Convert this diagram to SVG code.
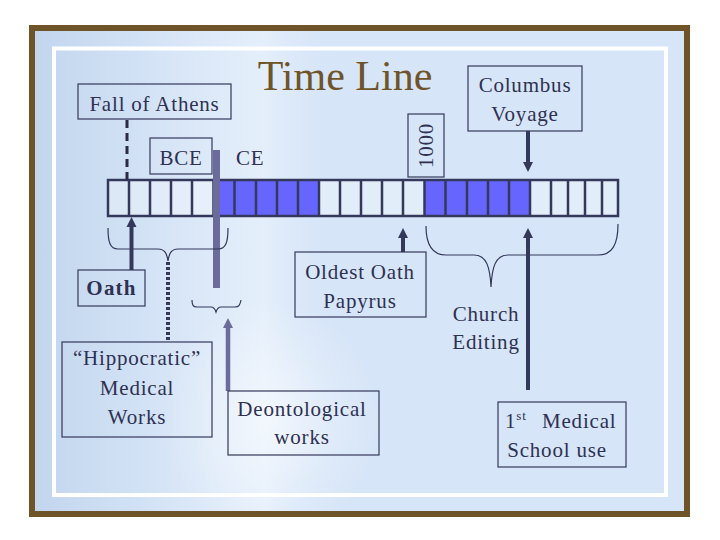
<svg xmlns="http://www.w3.org/2000/svg" width="720" height="540" viewBox="0 0 720 540">
<defs>
  <linearGradient id="leftImg" x1="0" y1="0" x2="1" y2="0">
    <stop offset="0" stop-color="#bfd3ec" stop-opacity="0.9"/>
    <stop offset="0.35" stop-color="#d0e0f4" stop-opacity="0.7"/>
    <stop offset="0.75" stop-color="#eef5fd" stop-opacity="0.6"/>
    <stop offset="1" stop-color="#d6e5f8" stop-opacity="0"/>
  </linearGradient>
  <radialGradient id="glow" cx="0.5" cy="0.5" r="0.5">
    <stop offset="0" stop-color="#ffffff" stop-opacity="0.55"/>
    <stop offset="1" stop-color="#ffffff" stop-opacity="0"/>
  </radialGradient>
  <marker id="ahDark" viewBox="0 0 10 10" refX="1" refY="5" markerWidth="10" markerHeight="11" markerUnits="userSpaceOnUse" orient="auto">
    <path d="M0,0 L10,5 L0,10 z" fill="#34385a"/>
  </marker>
  <marker id="ahPurple" viewBox="0 0 10 10" refX="1" refY="5" markerWidth="10" markerHeight="11" markerUnits="userSpaceOnUse" orient="auto">
    <path d="M0,0 L10,5 L0,10 z" fill="#6b6b9c"/>
  </marker>
</defs>
<style>
  .lbl { font-family: "Liberation Serif", "Times New Roman", serif; font-size: 21px; fill: #2e3152; letter-spacing: 0.8px; }
  .mid { text-anchor: middle; }
  .box { fill: none; stroke: #34385a; stroke-width: 1.2; }
  .title { font-family: "Liberation Serif", "Times New Roman", serif; font-size: 42px; fill: #6e5428; text-anchor: middle; }
  .arrow { stroke: #34385a; stroke-width: 4; fill: none; }
  .parrow { stroke: #6b6b9c; stroke-width: 4.5; fill: none; }
  .brace { stroke: #34385a; stroke-width: 1.2; fill: none; }
  .cell { stroke: #34385a; stroke-width: 2.5; }
  .blue { fill: #6666ff; }
</style>

<!-- background -->
<rect x="0" y="0" width="720" height="540" fill="#ffffff"/>
<rect x="32" y="28" width="655" height="486" fill="#d6e5f8"/>
<rect x="32" y="28" width="310" height="486" fill="url(#leftImg)"/>
<ellipse cx="270" cy="420" rx="110" ry="120" fill="url(#glow)"/>
<rect x="32" y="28" width="655" height="486" fill="none" stroke="#6e5428" stroke-width="6"/>
<rect x="54" y="48.5" width="612" height="446.5" fill="none" stroke="#ffffff" stroke-width="4"/>

<text class="title" x="345" y="90">Time Line</text>

<!-- timeline bar -->
<g id="timeline">
  <rect x="108" y="180" width="510" height="36" fill="#ffffff" fill-opacity="0.3"/>
  <rect class="blue" x="213.5" y="180" width="105.5" height="36"/>
  <rect class="blue" x="424.5" y="180" width="105.5" height="36"/>
  <path class="cell" d="M129,180V216 M150,180V216 M171,180V216 M192,180V216 M213.5,180V216 M234.5,180V216 M256,180V216 M277,180V216 M298,180V216 M319,180V216 M340,180V216 M361,180V216 M382,180V216 M403,180V216 M424.5,180V216 M445.5,180V216 M467,180V216 M488,180V216 M509,180V216 M530,180V216 M551,180V216 M568,180V216 M585,180V216 M602,180V216"/>
  <rect x="108" y="180" width="510" height="36" fill="none" stroke="#34385a" stroke-width="2.5"/>
</g>

<!-- connectors -->
<g id="connectors">
  <line x1="127" y1="120" x2="127" y2="180" stroke="#2b2b45" stroke-width="3" stroke-dasharray="8 5"/>
  <line x1="216.5" y1="150" x2="216.5" y2="288" stroke="#6b6b9c" stroke-width="7"/>
  <line class="arrow" x1="528" y1="131" x2="528" y2="163" marker-end="url(#ahDark)"/>
  <line class="arrow" x1="131.5" y1="270" x2="131.5" y2="226" marker-end="url(#ahDark)"/>
  <line class="arrow" x1="403" y1="252" x2="403" y2="237" marker-end="url(#ahDark)"/>
  <line class="arrow" x1="528" y1="390" x2="528" y2="237" marker-end="url(#ahDark)"/>
  <line class="parrow" x1="228" y1="391" x2="228" y2="327" marker-end="url(#ahPurple)"/>
  <line x1="168" y1="262" x2="168" y2="342" stroke="#34385a" stroke-width="4" stroke-dasharray="3 2"/>
  <path class="brace" d="M108,228 C108,242 110,249 118,249 L158,249 C165,249 167,254 168,261 C169,254 171,249 178,249 L218,249 C226,249 228,242 228,228"/>
  <path class="brace" d="M426,226 C426,245 432,255 446,255 L474,255 C487,255 490,268 491,287 C492,268 495,255 508,255 L598,255 C612,255 618,245 618,224"/>
  <path class="brace" d="M192,300 C192,305 193,307 197,307 L211,307 C214,307 215,309 216,312 C217,309 218,307 221,307 L235,307 C239,307 240,305 241,300"/>
</g>

<g id="fall-of-athens">
  <rect class="box" x="78" y="84" width="153" height="35"/>
  <text class="lbl mid" x="154.5" y="111">Fall of Athens</text>
</g>

<g id="bce">
  <rect class="box" x="150" y="138" width="62" height="36"/>
  <text class="lbl mid" x="181" y="165">BCE</text>
</g>

<g id="ce">
  <text class="lbl" x="236" y="165">CE</text>
</g>

<g id="year-1000">
  <rect class="box" x="408" y="114" width="36" height="63"/>
  <text class="lbl mid" x="0" y="0" transform="translate(433,145.5) rotate(-90)">1000</text>
</g>

<g id="columbus">
  <rect class="box" x="468" y="66" width="114" height="65"/>
  <text class="lbl mid" x="525" y="92">Columbus</text>
  <text class="lbl mid" x="525" y="121">Voyage</text>
</g>

<g id="oath">
  <rect class="box" x="78" y="270" width="67" height="36"/>
  <text class="lbl mid" x="111.5" y="295" font-weight="bold" style="letter-spacing:1.2px">Oath</text>
</g>

<g id="hippocratic">
  <rect class="box" x="62" y="342" width="150" height="95"/>
  <text class="lbl mid" x="137" y="365">“Hippocratic”</text>
  <text class="lbl mid" x="137" y="395">Medical</text>
  <text class="lbl mid" x="137" y="424">Works</text>
</g>

<g id="oldest-oath">
  <rect class="box" x="295" y="252" width="131" height="65"/>
  <text class="lbl mid" x="360" y="279">Oldest Oath</text>
  <text class="lbl mid" x="360" y="308">Papyrus</text>
</g>

<g id="deontological">
  <rect class="box" x="228" y="391" width="151" height="64"/>
  <text class="lbl mid" x="302" y="416">Deontological</text>
  <text class="lbl mid" x="302" y="444">works</text>
</g>

<g id="church-editing">
  <text class="lbl mid" x="486" y="321">Church</text>
  <text class="lbl mid" x="486" y="349">Editing</text>
</g>

<g id="medical-school">
  <rect class="box" x="498" y="402" width="128" height="65"/>
  <text class="lbl" x="505" y="428">1<tspan font-size="13" dy="-8">st</tspan><tspan x="542" dy="8">Medical</tspan></text>
  <text class="lbl mid" x="557" y="457">School use</text>
</g>
</svg>
